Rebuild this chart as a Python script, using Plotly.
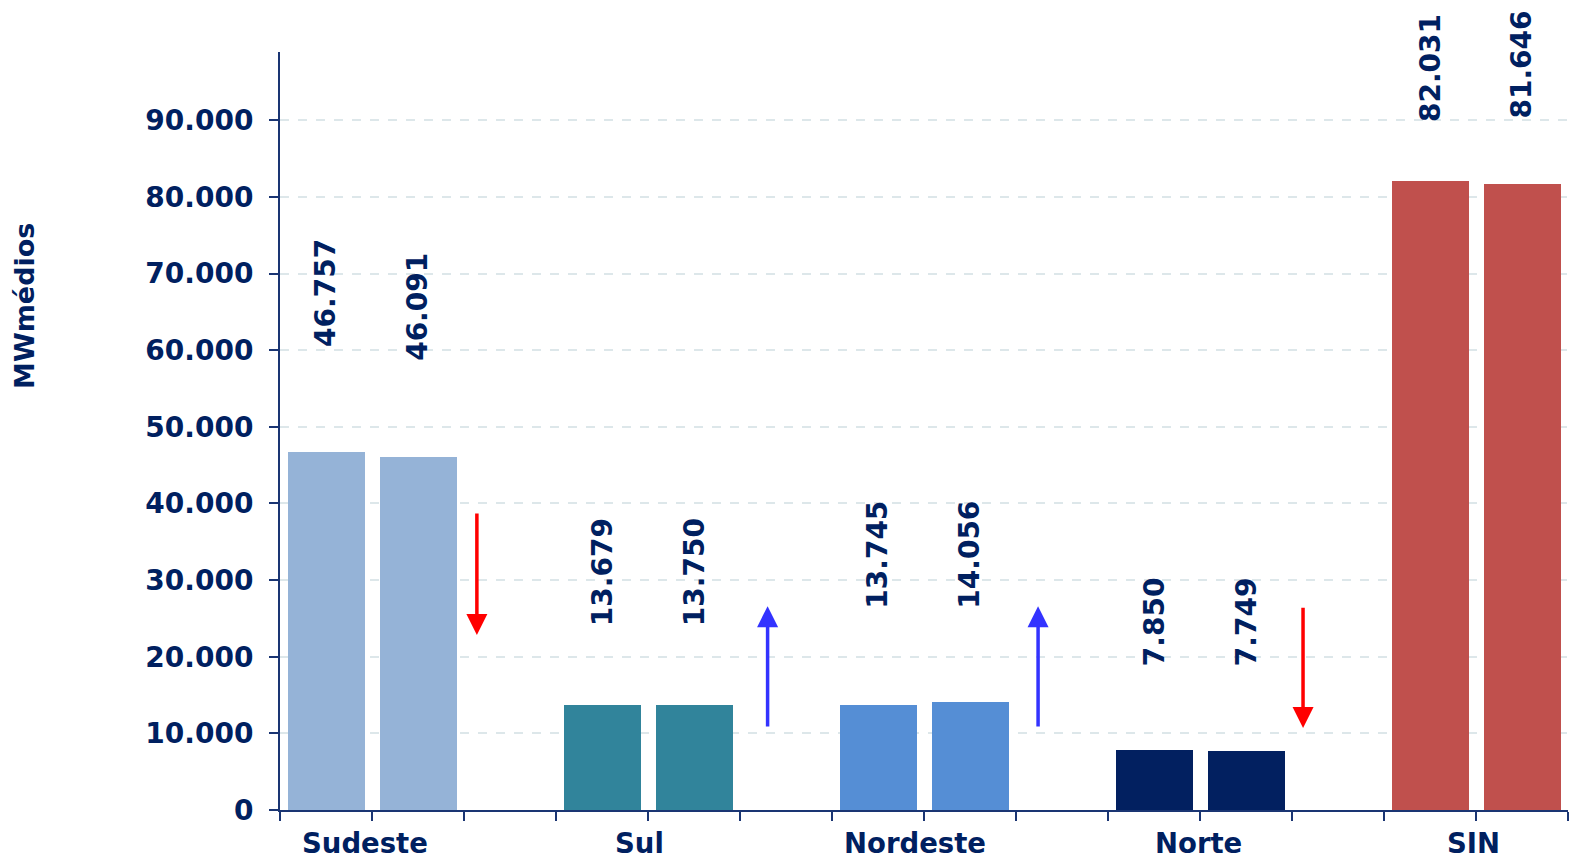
import plotly.graph_objects as go

# Regions and the two values shown for each one (MWmédios)
regioes = ["Sudeste", "Sul", "Nordeste", "Norte", "SIN"]
valor_1 = [46757, 13679, 13745, 7850, 82031]
valor_2 = [46091, 13750, 14056, 7749, 81646]
rotulos_1 = ["46.757", "13.679", "13.745", "7.850", "82.031"]
rotulos_2 = ["46.091", "13.750", "14.056", "7.749", "81.646"]
cores = ["#95b3d7", "#31849b", "#558ed5", "#022060", "#c0504d"]

# Y tick values and labels
y_ticks = [0, 10000, 20000, 30000, 40000, 50000, 60000, 70000, 80000, 90000]
y_tick_text = ["0", "10.000", "20.000", "30.000", "40.000", "50.000",
               "60.000", "70.000", "80.000", "90.000"]

# Layout helpers: each region uses three slots on the x axis (two bars + gap)
slot_1 = [0.5, 3.5, 6.5, 9.5, 12.5]
slot_2 = [1.5, 4.5, 7.5, 10.5, 13.5]
nome_x = [0.92, 3.91, 6.9, 9.98, 12.97]
rot_y_1 = [67470, 31030, 33310, 24510, 96810]
rot_y_2 = [65650, 31030, 33310, 24510, 97260]

# Trend arrows: (x, tail, tip, colour)
setas = [
    (2.14, 38870, 22830, "#ff0000"),
    (5.30, 10700, 26600, "#3333ff"),
    (8.24, 10700, 26600, "#3333ff"),
    (11.12, 26600, 10700, "#ff0000"),
]

AZUL = "#002060"
EIXO = "#1a3573"
FONTE = "DejaVu Sans"

fig = go.Figure()
fig.add_trace(go.Bar(x=slot_1, y=valor_1, marker_color=cores, width=0.837,
                     marker_line_width=0, showlegend=False, hoverinfo="skip"))
fig.add_trace(go.Bar(x=slot_2, y=valor_2, marker_color=cores, width=0.837,
                     marker_line_width=0, showlegend=False, hoverinfo="skip"))

anns = []
for xs, ys, txts in ((slot_1, rot_y_1, rotulos_1), (slot_2, rot_y_2, rotulos_2)):
    for x, y, t in zip(xs, ys, txts):
        anns.append(dict(x=x, y=y, xref="x", yref="y", text=f"<b>{t}</b>",
                         textangle=-90, showarrow=False, xanchor="center",
                         yanchor="middle",
                         font=dict(family=FONTE, size=28, color=AZUL)))

# Region names sit under the axis, kept inside the bottom edge of the page
for x, nome in zip(nome_x, regioes):
    anns.append(dict(x=x, y=0, xref="x", yref="paper", yshift=-50,
                     text=f"<b>{nome}</b>", showarrow=False, xanchor="center",
                     yanchor="bottom", borderpad=0,
                     font=dict(family=FONTE, size=27.5, color=AZUL)))

for x, tail, tip, cor in setas:
    anns.append(dict(x=x, y=tip, ax=x, ay=tail, xref="x", yref="y",
                     axref="x", ayref="y", text="", showarrow=True,
                     arrowhead=2, arrowsize=1.2, arrowwidth=3.5, arrowcolor=cor,
                     standoff=0, startstandoff=0))

anns.append(dict(x=0, y=0.665, xref="paper", yref="paper", xshift=-255,
                 text="<b>MWmédios</b>", textangle=-90, showarrow=False,
                 xanchor="center", yanchor="middle",
                 font=dict(family=FONTE, size=27, color=AZUL)))

fig.update_layout(
    width=1571, height=861,
    margin=dict(l=280, r=3, t=52, b=51),
    paper_bgcolor="white", plot_bgcolor="white",
    bargap=0, barmode="overlay",
    annotations=anns,
    xaxis=dict(range=[0, 14], tickvals=list(range(15)), showticklabels=False,
               ticks="outside", ticklen=9, tickwidth=2, tickcolor=EIXO,
               showline=True, linecolor=EIXO, linewidth=2, showgrid=False,
               zeroline=False, fixedrange=True),
    yaxis=dict(range=[0, 98900], tickvals=y_ticks, ticktext=y_tick_text,
               ticks="outside", ticklen=9, tickwidth=2, tickcolor=EIXO,
               showline=True, linecolor=EIXO, linewidth=2,
               showgrid=True, gridcolor="#dde7ea", gridwidth=1.5, griddash="dash",
               zeroline=False, ticklabelstandoff=10,
               tickfont=dict(family=FONTE, size=28, color=AZUL, weight="bold"),
               fixedrange=True),
)

fig.write_html("out.html")
